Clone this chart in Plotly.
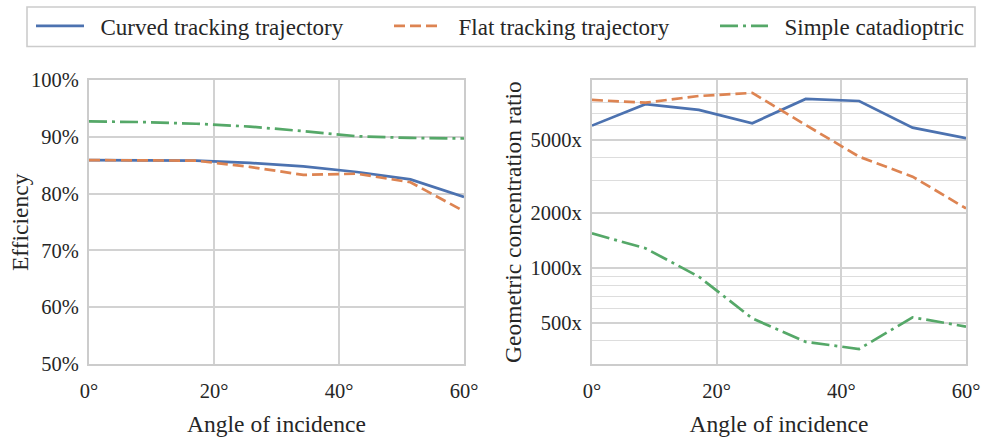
import plotly.graph_objects as go
from plotly.subplots import make_subplots

# Angle of incidence (degrees): 8 evenly spaced samples from 0 to 60
angles = [0, 60 / 7, 120 / 7, 180 / 7, 240 / 7, 300 / 7, 360 / 7, 60]

series_names = ["Curved tracking trajectory", "Flat tracking trajectory", "Simple catadioptric"]

# Optical efficiency (%)
eff_curved = [85.9, 85.9, 85.8, 85.4, 84.8, 83.8, 82.5, 79.4]
eff_flat = [85.9, 85.9, 85.8, 84.7, 83.3, 83.5, 82.0, 76.9]
eff_simple = [92.7, 92.6, 92.3, 91.8, 91.0, 90.1, 89.8, 89.7]

# Geometric concentration ratio (x)
gcr_curved = [5990, 7840, 7300, 6170, 8380, 8170, 5840, 5110]
gcr_flat = [8280, 8000, 8700, 9040, 6040, 4050, 3150, 2110]
gcr_simple = [1540, 1277, 893, 528, 393, 359, 535, 476]

angle_ticks = [0, 20, 40, 60]
eff_ticks = [50, 60, 70, 80, 90, 100]
gcr_ticks = [500, 1000, 2000, 5000]
gcr_minor = [400, 600, 700, 800, 900, 3000, 4000, 6000, 7000, 8000, 9000]

colors = ["#4C72B0", "#DD8452", "#55A868"]
dashes = ["solid", "11px,5px", "18px,5px,3px,5px"]
legends = ["legend", "legend2", "legend3"]

FONT = "Liberation Serif, Times New Roman, serif"
TXT = "#262626"
GRID = "#d2d2d2"

W, H = 987, 440
ML, MR, MT, MB = 89, 21, 80, 76

fig = make_subplots(rows=1, cols=2, horizontal_spacing=0.146)

# small gap between legend sample line and its label
PAD = "\u00a0\u00a0"

eff_sets = [eff_curved, eff_flat, eff_simple]
gcr_sets = [gcr_curved, gcr_flat, gcr_simple]
for i in range(3):
    line = dict(color=colors[i], width=2.7, dash=dashes[i])
    fig.add_trace(go.Scatter(x=angles, y=eff_sets[i], mode="lines", name=PAD + series_names[i],
                             line=line, legend=legends[i]), row=1, col=1)
    fig.add_trace(go.Scatter(x=angles, y=gcr_sets[i], mode="lines", name=series_names[i],
                             line=line, showlegend=False), row=1, col=2)

# invisible outside ticks give the gap between spine and tick labels
axis_common = dict(
    showline=True, mirror=True, linecolor="#cccccc", linewidth=2,
    showgrid=True, gridcolor=GRID, gridwidth=1.6,
    zeroline=False, ticks="outside", tickcolor="rgba(0,0,0,0)", automargin=False,
    tickfont=dict(family=FONT, size=20.5, color=TXT),
)
title_font = dict(family=FONT, size=23.5, color=TXT)

fig.update_xaxes(**axis_common, range=[0, 60], tickvals=angle_ticks,
                 ticktext=[f"{v}°" for v in angle_ticks], ticklen=7,
                 title=dict(text="Angle of incidence", font=title_font, standoff=15))
fig.update_yaxes(**axis_common, ticklen=4)

fig.update_xaxes(domain=[0, 0.4276], row=1, col=1)
fig.update_xaxes(domain=[0.5735, 1], row=1, col=2)

fig.update_yaxes(range=[50, 100], tickvals=eff_ticks,
                 ticktext=[f"{v}%" for v in eff_ticks], row=1, col=1)
fig.update_yaxes(type="log", range=[2.473, 4.027], tickvals=gcr_ticks,
                 ticktext=[f"{v}x" for v in gcr_ticks],
                 minor=dict(tickvals=gcr_minor, showgrid=True, gridcolor="#dddddd",
                            gridwidth=1.1, ticks=""),
                 row=1, col=2)

pw, ph = W - ML - MR, H - MT - MB

# Y-axis titles, rotated, centred on each panel
for text, px in [("Efficiency", 20), ("Geometric concentration ratio", 513)]:
    fig.add_annotation(text=text, textangle=-90, font=title_font,
                       xref="paper", yref="paper", x=(px - ML) / pw, y=0.5,
                       xanchor="center", yanchor="middle", showarrow=False)

# Legend: one entry per series, laid out in a single framed row
legend_font = dict(family=FONT, size=23, color=TXT)
line_starts = [36, 394, 720]
ITEM_W = 48
leg_cfg = {}
for name, xs in zip(legends, line_starts):
    leg_cfg[name] = dict(
        xref="container", yref="container",
        x=(xs - 5) / W, xanchor="left",
        y=1 - 26 / H, yanchor="middle",
        bgcolor="rgba(0,0,0,0)", borderwidth=0,
        font=legend_font, itemwidth=ITEM_W,
    )

fig.add_shape(type="rect", xref="paper", yref="paper",
              x0=(27 - ML) / pw, x1=(975 - ML) / pw,
              y0=(H - MB - 46.5) / ph, y1=(H - MB - 7) / ph,
              line=dict(color="#cccccc", width=1.6), fillcolor="rgba(0,0,0,0)",
              layer="above")

fig.update_layout(
    width=W, height=H,
    margin=dict(l=ML, r=MR, t=MT, b=MB, autoexpand=False),
    paper_bgcolor="white", plot_bgcolor="white",
    font=dict(family=FONT, color=TXT),
    **leg_cfg,
)

fig.write_html("out.html")
